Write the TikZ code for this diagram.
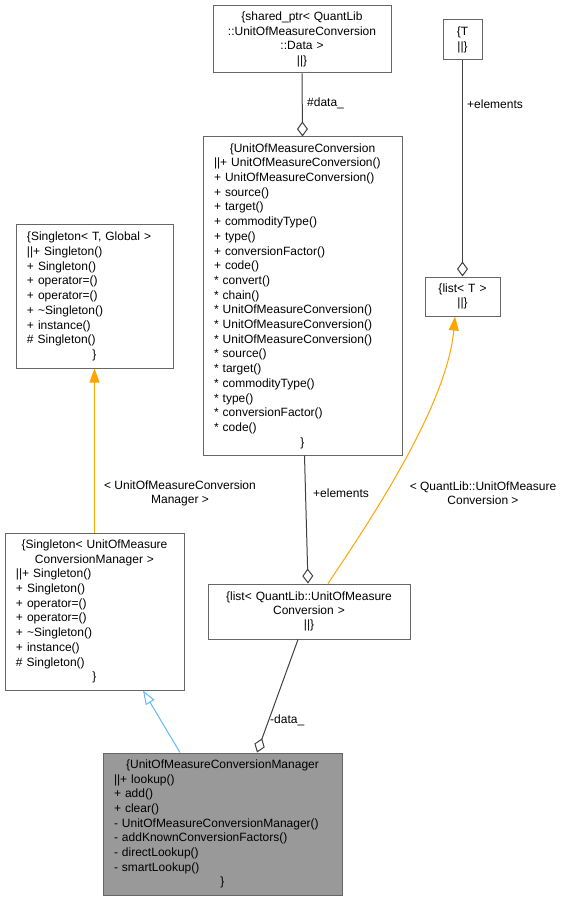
\documentclass[tikz,border=0pt]{standalone}
\usepackage{fontspec}
\setmainfont{Liberation Sans}
\usetikzlibrary{arrows.meta}
\definecolor{edgegray}{HTML}{404040}
\definecolor{boxgray}{HTML}{666666}
\definecolor{mgrfill}{HTML}{999999}
\definecolor{inhorange}{HTML}{FFA500}
\definecolor{inhblue}{HTML}{63B8FF}
\newcommand{\cen}[1]{\makebox[\linewidth][c]{#1}}
\begin{document}
\begin{tikzpicture}[x=1pt,y=-1pt,
  font=\fontsize{12}{14.7}\selectfont,
  cls/.style={draw=boxgray, line width=1pt, fill=white, inner xsep=11pt, inner ysep=0pt, align=left},
  assoc/.style={draw=edgegray, line width=1pt, -{Diamond[open, length=15pt, width=11pt, line width=1pt]}},
  inhor/.style={draw=inhorange, line width=1pt, -{Triangle[length=14pt, width=10pt]}},
  inhbl/.style={draw=inhblue, line width=1pt, -{Triangle[open, length=14pt, width=10pt, line width=1pt]}},
  lbl/.style={inner sep=0pt, align=center, font=\fontsize{12}{14}\selectfont}
]
\fill[white] (0,0) rectangle (568,901);
\useasboundingbox (0,0) rectangle (568,901);

\node[cls, align=center, minimum width=178pt, minimum height=67pt, text width=156pt] (sp) at (302,39.5)
 {\{shared\_ptr< QuantLib\\::UnitOfMeasureConversion\\::Data >\\||\}};
\node[cls, align=center, minimum width=39pt, minimum height=40pt, text width=17pt, inner xsep=11pt] (T) at (462.5,40)
 {\{T\\||\}};
\node[cls, align=center, minimum width=75pt, minimum height=39pt, text width=53pt] (lT) at (462.5,296.5)
 {\{list< T >\\||\}};
\node[cls, minimum width=199pt, minimum height=318pt, text width=177pt] (uomc) at (302.5,296)
 {\cen{\{UnitOfMeasureConversion}\\||+ UnitOfMeasureConversion()\\+ UnitOfMeasureConversion()\\+ source()\\+ target()\\+ commodityType()\\+ type()\\+ conversionFactor()\\+ code()\\{}* convert()\\{}* chain()\\{}* UnitOfMeasureConversion()\\{}* UnitOfMeasureConversion()\\{}* UnitOfMeasureConversion()\\{}* source()\\{}* target()\\{}* commodityType()\\{}* type()\\{}* conversionFactor()\\{}* code()\\\cen{\}}};
\node[cls, minimum width=157pt, minimum height=143pt, text width=135pt] (sg) at (94.5,296.5)
 {\{Singleton< T, Global >\\||+ Singleton()\\+ Singleton()\\+ operator=()\\+ operator=()\\+ \textasciitilde Singleton()\\+ instance()\\\# Singleton()\\\cen{\}}};
\node[cls, minimum width=179pt, minimum height=157pt, text width=157pt] (sm) at (94.5,611.5)
 {\cen{\{Singleton< UnitOfMeasure}\\\cen{ConversionManager >}\\||+ Singleton()\\+ Singleton()\\+ operator=()\\+ operator=()\\+ \textasciitilde Singleton()\\+ instance()\\\# Singleton()\\\cen{\}}};
\node[cls, align=center, minimum width=202pt, minimum height=55pt, text width=180pt, font=\fontsize{12}{14}\selectfont] (lq) at (309,611.5)
 {\{list< QuantLib::UnitOfMeasure\\Conversion >\\||\}};
\node[cls, fill=mgrfill, minimum width=239pt, minimum height=142pt, text width=217pt] (mgr) at (222.5,824)
 {\cen{\{UnitOfMeasureConversionManager}\\||+ lookup()\\+ add()\\+ clear()\\- UnitOfMeasureConversionManager()\\- addKnownConversionFactors()\\- directLookup()\\- smartLookup()\\\cen{\}}};

% connectors
\draw[assoc] (sp.south) -- (uomc.north);
\draw[assoc] (T.south) -- (lT.north);
\draw[assoc] ([xshift=2pt]uomc.south) -- ([xshift=-1pt]lq.north);
\draw[inhor] ([xshift=19pt]lq.north) .. controls (372,518) and (447,405) .. ([xshift=-7.5pt]lT.south);
\draw[inhor] (sm.north) -- (sg.south);
\draw[inhbl] ([xshift=-42.5pt]mgr.north) -- ([xshift=48.5pt]sm.south);
\draw[assoc] ([xshift=-11pt]lq.south) -- ([xshift=34.5pt]mgr.north);

% labels
\node[lbl, anchor=west] (l1) at (307,103) {\#data\_};
\node[lbl, anchor=west] (l2) at (467,104) {+elements};
\node[lbl, anchor=west] (l3) at (313,493) {+elements};
\node[lbl] (l4) at (483,493) {< QuantLib::UnitOfMeasure\\Conversion >};
\node[lbl] (l5) at (180,493) {< UnitOfMeasureConversion\\Manager >};
\node[lbl, anchor=west] (l6) at (270,720) {-data\_};
\end{tikzpicture}
\end{document}
